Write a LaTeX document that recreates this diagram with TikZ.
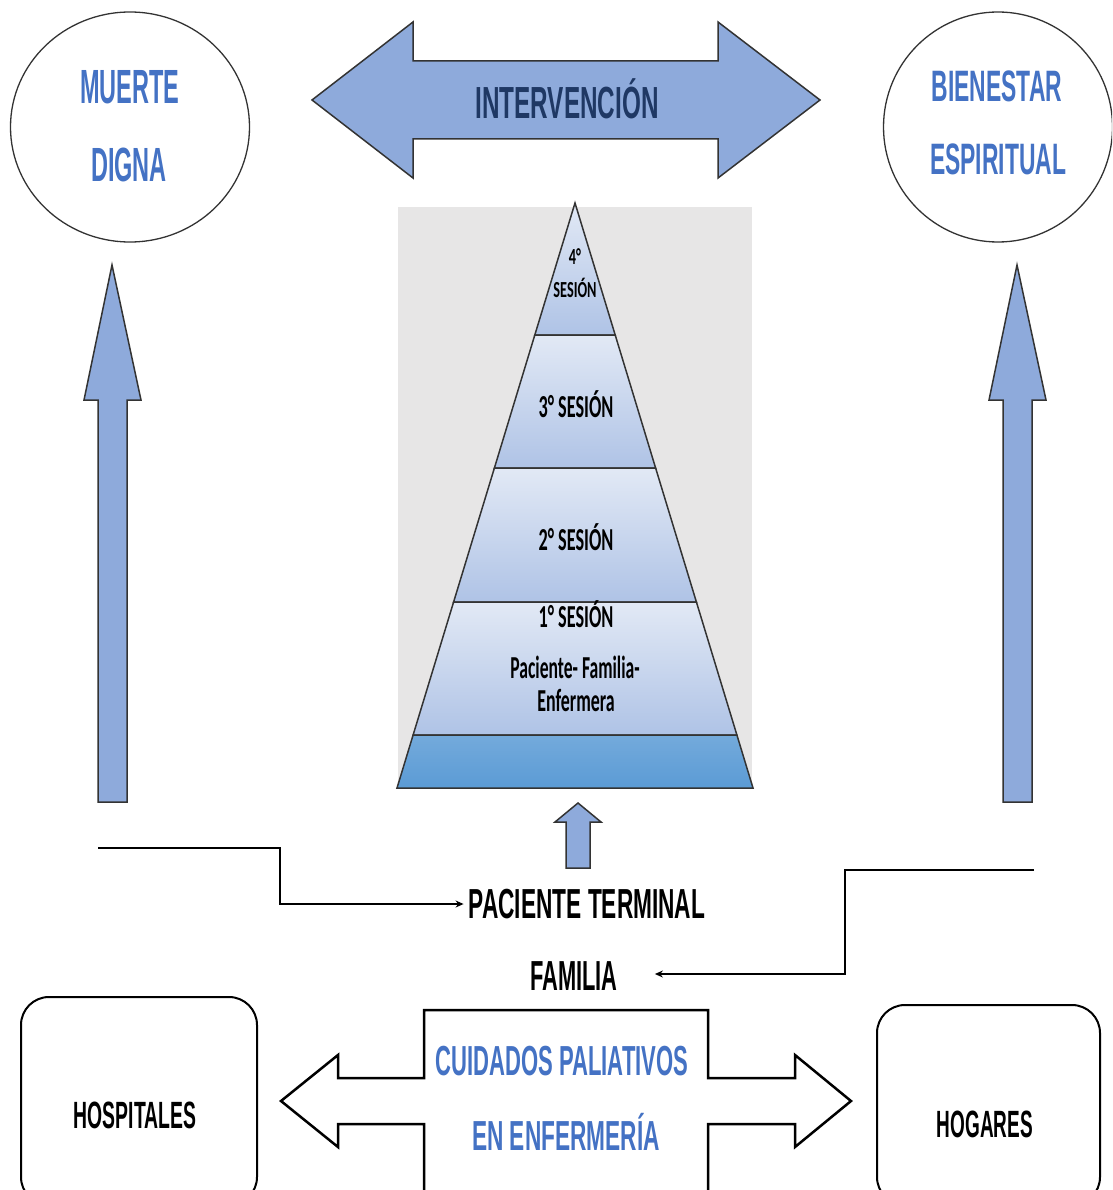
\documentclass[tikz,border=0pt]{standalone}
\usepackage{fontspec}
\usepackage{graphicx}
\usetikzlibrary{shapes.geometric,arrows.meta,calc}
\newfontfamily\arialf{Liberation Sans}
\newfontfamily\calf{Carlito}
\definecolor{txtblue}{HTML}{4472C4}
\definecolor{arrblue}{HTML}{8EAADB}
\definecolor{navy}{HTML}{1F3864}
\definecolor{bggrey}{HTML}{E7E6E6}
\definecolor{pyrtop}{HTML}{E2E9F5}
\definecolor{pyrbot}{HTML}{AFC3E6}
\definecolor{baseblue}{HTML}{5B9BD5}
\definecolor{edgegrey}{HTML}{333333}
\newcommand\sqz[3]{\scalebox{#1}[1]{\fontsize{#2}{#2}\selectfont #3}}
\begin{document}
\begin{tikzpicture}[x=1pt,y=-1pt,
  lbl/.style={inner sep=0pt, anchor=base, font=\arialf\bfseries},
  pyr/.style={inner sep=0pt, anchor=base, font=\calf\bfseries, text=black},
  blockarrow/.style={fill=arrblue, draw=edgegrey, line width=1.5pt, line join=miter},
  circ/.style={ellipse, draw=edgegrey, line width=1.3pt, inner sep=0pt, fill=white},
  roundbox/.style={draw=black, line width=2pt, rounded corners=28pt, inner sep=0pt, fill=white},
  layer/.style={draw=edgegrey, line width=1.5pt, line join=miter, top color=pyrtop, bottom color=pyrbot},
  conn/.style={draw=black, line width=1.3pt, -{Stealth[length=8pt,width=7pt]}},
  outlinearrow/.style={draw=black, line width=2.5pt, fill=white, line join=miter}]
\useasboundingbox (0,0) rectangle (1112,1190);
\fill[white] (0,0) rectangle (1112,1190);
\clip (0,0) rectangle (1112,1190);

% circles
\node[circ, minimum width=239pt, minimum height=230pt] (muerte) at (130,127) {};
\node[lbl, text=txtblue] (muerte1) at (130,104) {\sqz{0.49}{48}{MUERTE}};
\node[lbl, text=txtblue] (muerte2) at (129,182) {\sqz{0.49}{48}{DIGNA}};
\node[circ, minimum width=229pt, minimum height=230pt] (bien) at (998,127) {};
\node[lbl, text=txtblue] (bien1) at (997,102) {\sqz{0.52}{44}{BIENESTAR}};
\node[lbl, text=txtblue] (bien2) at (998,175) {\sqz{0.52}{44}{ESPIRITUAL}};

% top double arrow
\draw[blockarrow] (312,100) -- (413,22) -- (413,61) -- (718,61) -- (718,22) -- (820,100)
  -- (718,178) -- (718,139) -- (413,139) -- (413,178) -- cycle;
\node[lbl, text=navy] (interv) at (567,119) {\sqz{0.54}{45}{INTERVENCIÓN}};

% vertical arrows
\draw[blockarrow] (112,265) -- (141,400) -- (127,400) -- (127,802) -- (98,802) -- (98,400) -- (84,400) -- cycle;
\draw[blockarrow] (1017,265) -- (1046,400) -- (1032,400) -- (1032,802) -- (1003,802) -- (1003,400) -- (989,400) -- cycle;

% pyramid
\fill[bggrey] (398,207) rectangle (752,788);
\path[layer] (575,203) -- (615.2,335) -- (534.8,335) -- cycle;
\path[layer] (534.8,335) -- (615.2,335) -- (655.6,468) -- (494.4,468) -- cycle;
\path[layer] (494.4,468) -- (655.6,468) -- (696.4,602) -- (453.6,602) -- cycle;
\path[layer] (453.6,602) -- (696.4,602) -- (736.9,735) -- (413.1,735) -- cycle;
\path[draw=edgegrey, line width=1.5pt, line join=miter, top color=baseblue!85!white, bottom color=baseblue] (413.1,735) -- (736.9,735) -- (753,788) -- (397,788) -- cycle;
\node[pyr] (s4a) at (575,265) {\sqz{0.62}{23}{4°}};
\node[pyr] (s4b) at (575,297) {\sqz{0.62}{23}{SESIÓN}};
\node[pyr] (s3) at (576,417) {\sqz{0.57}{32}{3° SESIÓN}};
\node[pyr] (s2) at (576,550) {\sqz{0.57}{32}{2° SESIÓN}};
\node[pyr] (s1) at (576,627) {\sqz{0.57}{32}{1° SESIÓN}};
\node[pyr] (s1b) at (575,678) {\sqz{0.55}{32}{Paciente- Familia-}};
\node[pyr] (s1c) at (576,711) {\sqz{0.56}{32}{Enfermera}};

% small arrow
\draw[blockarrow] (578,803) -- (601,822) -- (590,822) -- (590,868) -- (566,868) -- (566,822) -- (555,822) -- cycle;

% labels and connectors
\node[lbl, text=black] (pac) at (587,918) {\sqz{0.54}{42}{PACIENTE TERMINAL}};
\node[lbl, text=black] (fam) at (574,990) {\sqz{0.52}{42}{FAMILIA}};
\coordinate (lstart) at (98,848);
\coordinate (lbend) at (280,904);
\draw[conn, shorten >=5pt] (lstart) -| (lbend) -- (lbend -| pac.west);
\coordinate (rstart) at (1034,870);
\coordinate (rbend) at (845,974);
\draw[conn] (rstart) -| (rbend) -- ($(rbend -| fam.east)+(37,0)$);

% bottom boxes
\node[roundbox, minimum width=236pt, minimum height=208pt, anchor=north west] (hosp) at (20,996) {};
\node[lbl, text=black] (hosptxt) at (135,1128) {\sqz{0.51}{38}{HOSPITALES}};
\node[roundbox, minimum width=223pt, minimum height=200pt, anchor=north west] (hog) at (876,1004) {};
\node[lbl, text=black] (hogtxt) at (985,1137) {\sqz{0.5}{38}{HOGARES}};

% bottom outline double arrow
\draw[outlinearrow] (424,1200) -- (424,1124) -- (338,1124) -- (338,1147) -- (281,1101) -- (338,1055)
  -- (338,1078) -- (424,1078) -- (424,1010) -- (708,1010) -- (708,1078) -- (795,1078)
  -- (795,1055) -- (851,1101) -- (795,1147) -- (795,1124) -- (708,1124) -- (708,1200);
\node[lbl, text=txtblue] (cuid1) at (562,1075) {\sqz{0.525}{42}{CUIDADOS PALIATIVOS}};
\node[lbl, text=txtblue] (cuid2) at (566,1150) {\sqz{0.54}{42}{EN ENFERMERÍA}};
\end{tikzpicture}
\end{document}
